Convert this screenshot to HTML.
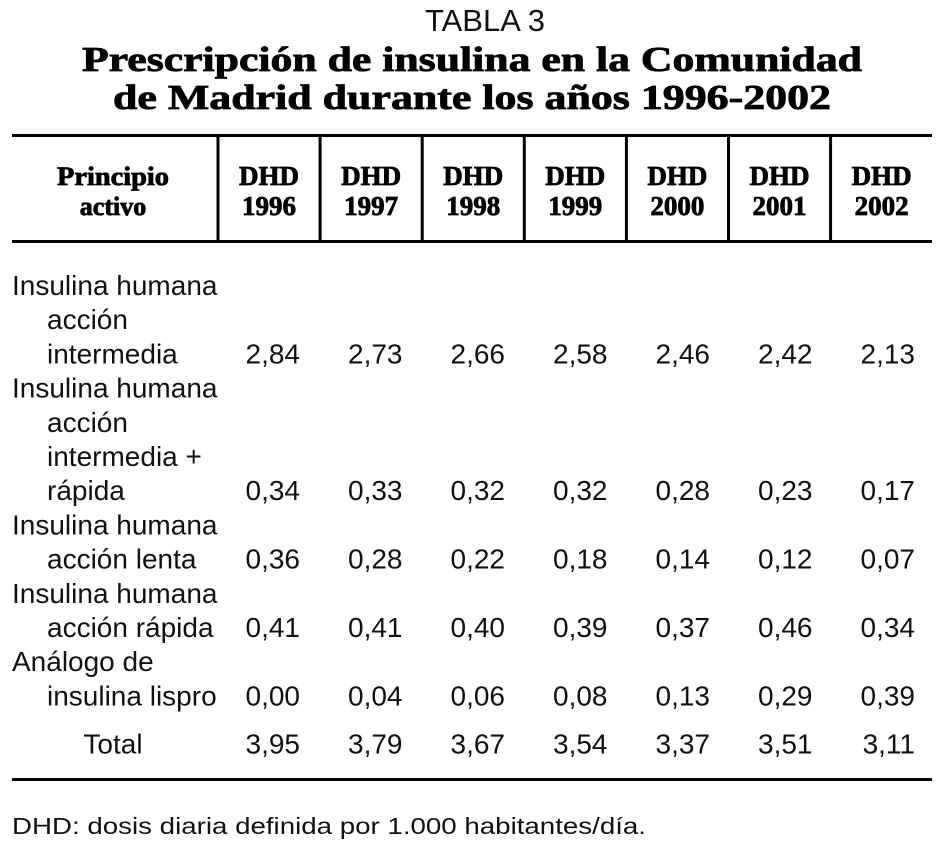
<!DOCTYPE html>
<html><head><meta charset="utf-8">
<style>
html,body{margin:0;padding:0;background:#fff;}
svg{display:block;}
.t{font-family:"Liberation Sans",sans-serif;fill:#111;}
.b{font-family:"Liberation Serif",serif;font-weight:bold;fill:#000;stroke:#000;stroke-width:0.8;}
</style></head>
<body>
<svg id="tbl" width="944" height="843" viewBox="0 0 944 843">
  <text class="t" x="485" y="31" font-size="31" text-anchor="middle">TABLA 3</text>
  <text class="b" x="472" y="71" font-size="35" text-anchor="middle" textLength="780" lengthAdjust="spacingAndGlyphs">Prescripción de insulina en la Comunidad</text>
  <text class="b" x="472" y="109" font-size="35" text-anchor="middle" textLength="718" lengthAdjust="spacingAndGlyphs">de Madrid durante los años 1996-2002</text>
  <rect x="12" y="134" width="920" height="3" fill="#000"/>
  <rect x="12" y="240" width="920" height="3" fill="#000"/>
  <rect x="12" y="778" width="920" height="3" fill="#000"/>
  <text class="b" x="113" y="185" font-size="26" text-anchor="middle" textLength="112" lengthAdjust="spacingAndGlyphs">Principio</text>
  <text class="b" x="113" y="215" font-size="26" text-anchor="middle">activo</text>
  <g id="cols"></g>
  <g id="rows"></g>
  <text class="t" x="12" y="834" font-size="23" textLength="634" lengthAdjust="spacingAndGlyphs">DHD: dosis diaria definida por 1.000 habitantes/día.</text>
</svg>
<script>
const years = ["1996","1997","1998","1999","2000","2001","2002"];
const labels = [
  ["Insulina humana","acción","intermedia"],
  ["Insulina humana","acción","intermedia +","rápida"],
  ["Insulina humana","acción lenta"],
  ["Insulina humana","acción rápida"],
  ["Análogo de","insulina lispro"]
];
const values = [
  [2.84,2.73,2.66,2.58,2.46,2.42,2.13],
  [0.34,0.33,0.32,0.32,0.28,0.23,0.17],
  [0.36,0.28,0.22,0.18,0.14,0.12,0.07],
  [0.41,0.41,0.40,0.39,0.37,0.46,0.34],
  [0.00,0.04,0.06,0.08,0.13,0.29,0.39]
];
const totals = [3.95,3.79,3.67,3.54,3.37,3.51,3.11];

const NS = "http://www.w3.org/2000/svg";
const colLeft = i => 218 + i * 102.1;
const colRight = i => 300 + i * 102.5;
const lineY = k => 295 + k * 34.2;
const fmt = v => v.toFixed(2).replace(".", ",");
const cols = document.getElementById("cols");
const rows = document.getElementById("rows");

years.forEach((y, i) => {
  const r = document.createElementNS(NS, "rect");
  r.setAttribute("x", colLeft(i) - 1.5); r.setAttribute("y", 134);
  r.setAttribute("width", 3); r.setAttribute("height", 108); r.setAttribute("fill", "#000");
  
  
  cols.appendChild(r);
  const cx = colLeft(i) + 51;
  ["DHD", y].forEach((s, j) => {
    const t = document.createElementNS(NS, "text");
    t.setAttribute("class", "b"); t.setAttribute("x", cx); t.setAttribute("y", 185 + j * 30);
    t.setAttribute("font-size", "27"); t.setAttribute("text-anchor", "middle");
    t.textContent = s;
    
    
    cols.appendChild(t);
  });
});

function txt(x, y, s, anchor, name) {
  const t = document.createElementNS(NS, "text");
  t.setAttribute("class", "t"); t.setAttribute("x", x); t.setAttribute("y", y);
  t.setAttribute("font-size", "28"); t.setAttribute("text-anchor", anchor);
  t.textContent = s;
  
  
  rows.appendChild(t);
}

let k = 0;
labels.forEach((lines, r) => {
  lines.forEach((s, j) => { txt(j === 0 ? 12 : 47, lineY(k + j), s, "start", "row-label"); });
  const last = k + lines.length - 1;
  values[r].forEach((v, i) => txt(colRight(i), lineY(last), fmt(v), "end", "cell-value"));
  k += lines.length;
});
const ty = lineY(k) + 14;
txt(113, ty, "Total", "middle", "total-label");
totals.forEach((v, i) => txt(colRight(i), ty, fmt(v), "end", "total-value"));
</script>
</body></html>
